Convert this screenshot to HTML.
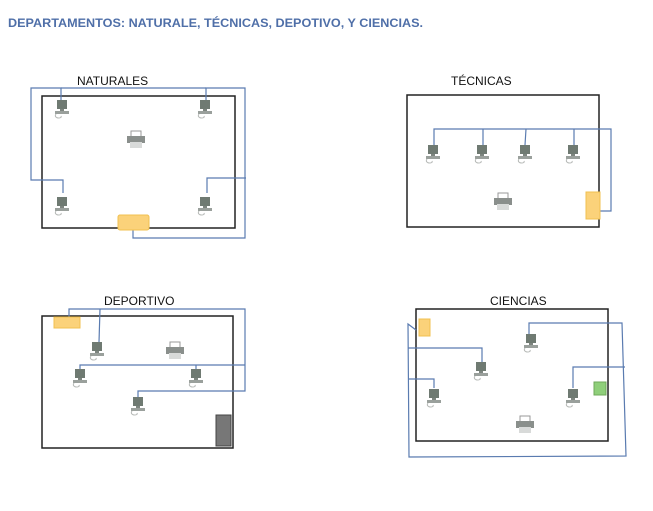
<!DOCTYPE html>
<html><head><meta charset="utf-8"><style>
html,body{margin:0;padding:0;background:#fff;}
svg{display:block;}
text{font-family:"Liberation Sans",sans-serif;}
</style></head><body>
<svg width="653" height="511" viewBox="0 0 653 511" xmlns="http://www.w3.org/2000/svg">
<defs>
<g id="pc">
  <rect x="-5" y="-8" width="10" height="9" fill="#6f7a72"/>
  <rect x="-2" y="1" width="4" height="2" fill="#7d857f"/>
  <rect x="-7" y="3" width="14" height="3" fill="#9aa09c"/>
  <path d="M-6 6 q-2 3 2 4 q4 0 3 -2" fill="none" stroke="#b5b8b6" stroke-width="1"/>
</g>
<g id="pr">
  <rect x="-5" y="-9" width="10" height="6" fill="#fff" stroke="#999" stroke-width="1"/>
  <rect x="-9" y="-4" width="18" height="7" fill="#8a8f8c"/>
  <rect x="-6" y="2" width="12" height="6" fill="#d8dad9"/>
</g>
</defs>

<text x="8" y="27" font-size="12" font-weight="bold" fill="#4f6fa8" textLength="415" lengthAdjust="spacingAndGlyphs">DEPARTAMENTOS: NATURALE, TÉCNICAS, DEPOTIVO, Y CIENCIAS.</text>

<g fill="none" stroke-width="1.5">
<!-- NATURALES -->
<rect x="42" y="96" width="193" height="132" stroke="#222"/>
<g stroke="#5a7bb0" stroke-width="1.2">
<polyline points="61,100 61,88 31,88 31,180 63,180 63,193"/>
<polyline points="206,100 206,88 245,88 245,238 133,238 133,229"/>
<polyline points="207,193 207,178 246,178"/>
<line x1="61" y1="88" x2="206" y2="88"/>
</g>
<!-- TECNICAS -->
<rect x="407" y="95" width="192" height="132" stroke="#222"/>
<g stroke="#5a7bb0" stroke-width="1.2">
<polyline points="434,145 434,129 611,129 611,211 599,211"/>
<line x1="483" y1="129" x2="483" y2="145"/>
<line x1="526" y1="129" x2="525" y2="145"/>
<line x1="574" y1="129" x2="574" y2="145"/>
</g>
<!-- DEPORTIVO -->
<rect x="42" y="316" width="191" height="132" stroke="#222"/>
<g stroke="#5a7bb0" stroke-width="1.2">
<polyline points="69,317 69,309 245,309 245,391 138,391 138,398"/>
<line x1="100" y1="309" x2="99" y2="342"/>
<polyline points="80,370 80,365 245,365"/>
<line x1="196" y1="365" x2="196" y2="370"/>
</g>
<!-- CIENCIAS -->
<rect x="416" y="309" width="192" height="132" stroke="#222"/>
<g stroke="#5a7bb0" stroke-width="1.2">
<polyline points="416,330 408,324 409,457 626,456 622,323 529,323 529,334"/>
<polyline points="408,348 482,348 482,362"/>
<polyline points="408,379 434,379 434,388"/>
<polyline points="573,388 573,367 625,367"/>
</g>
</g>

<text x="77" y="85" font-size="12" fill="#111">NATURALES</text>
<text x="451" y="85" font-size="12" fill="#111">TÉCNICAS</text>
<text x="104" y="305" font-size="12" fill="#111">DEPORTIVO</text>
<text x="490" y="305" font-size="12" fill="#111">CIENCIAS</text>

<!-- switches -->
<rect x="118" y="215" width="31" height="15" rx="2" fill="#fbd27a" stroke="#f0c050"/>
<rect x="586" y="192" width="14" height="27" fill="#fbd27a" stroke="#f0c050"/>
<rect x="54" y="317" width="26" height="11" fill="#fbd27a" stroke="#f0c050"/>
<rect x="419" y="319" width="11" height="17" fill="#fbd27a" stroke="#f0c050"/>
<rect x="594" y="382" width="12" height="13" fill="#8fcf7a" stroke="#6faa5a"/>
<rect x="216" y="415" width="15" height="31" fill="#777" stroke="#444"/>

<!-- computers -->
<use href="#pc" x="62" y="108"/><use href="#pc" x="205" y="108"/>
<use href="#pc" x="62" y="205"/><use href="#pc" x="205" y="205"/>
<use href="#pc" x="433" y="153"/><use href="#pc" x="482" y="153"/>
<use href="#pc" x="525" y="153"/><use href="#pc" x="573" y="153"/>
<use href="#pc" x="97" y="350"/><use href="#pc" x="80" y="377"/>
<use href="#pc" x="196" y="377"/><use href="#pc" x="138" y="405"/>
<use href="#pc" x="531" y="342"/><use href="#pc" x="481" y="370"/>
<use href="#pc" x="434" y="397"/><use href="#pc" x="573" y="397"/>
<!-- printers -->
<use href="#pr" x="136" y="140"/><use href="#pr" x="503" y="202"/>
<use href="#pr" x="175" y="351"/><use href="#pr" x="525" y="425"/>
</svg>
</body></html>
